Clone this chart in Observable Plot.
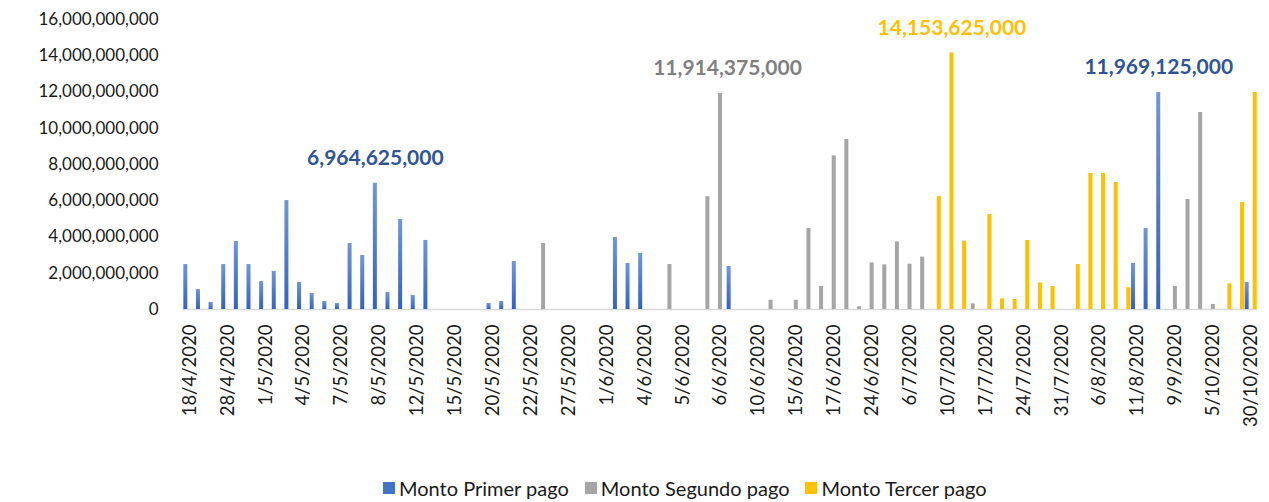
<!DOCTYPE html>
<html>
<head>
<meta charset="utf-8">
<script src="https://cdn.jsdelivr.net/npm/d3@7"></script>
<script src="https://cdn.jsdelivr.net/npm/@observablehq/plot@0.6"></script>
<style>
  html, body { margin: 0; padding: 0; background: #ffffff; }
  #chart { position: relative; width: 1269px; height: 502px; overflow: hidden; font-family: Lato, "Open Sans", sans-serif; }
  #chart svg { display: block; }
  .legend { position: absolute; left: 383px; top: 474px; height: 28px; display: flex; align-items: center; font-size: 20px; color: #1a1a1a; white-space: nowrap; }
  .legend .item { display: flex; align-items: center; margin-right: 16px; }
  .legend .sw { width: 12px; height: 12px; margin-right: 4px; }
</style>
</head>
<body>
<div id="chart"></div>
<script>
// Category tick labels (one label every third category)
const tickLabels = [
  "18/4/2020", "28/4/2020", "1/5/2020", "4/5/2020", "7/5/2020", "8/5/2020",
  "12/5/2020", "15/5/2020", "20/5/2020", "22/5/2020", "27/5/2020", "1/6/2020",
  "4/6/2020", "5/6/2020", "6/6/2020", "10/6/2020", "15/6/2020", "17/6/2020",
  "24/6/2020", "6/7/2020", "10/7/2020", "17/7/2020", "24/7/2020", "31/7/2020",
  "6/8/2020", "11/8/2020", "9/9/2020", "5/10/2020", "30/10/2020"
];

// Series values, in thousands of millions (85 categories each)
const primer = [
  2.48, 1.10, 0.39, 2.48, 3.75, 2.48, 1.54, 2.10, 6.01, 1.49,
  0.88, 0.44, 0.33, 3.64, 2.98, 6.964625, 0.94, 4.97, 0.77, 3.81,
  0, 0, 0, 0, 0.33, 0.44, 2.65, 0, 0, 0,
  0, 0, 0, 0, 3.97, 2.54, 3.09, 0, 0, 0,
  0, 0, 0, 2.37, 0, 0, 0, 0, 0, 0,
  0, 0, 0, 0, 0, 0, 0, 0, 0, 0,
  0, 0, 0, 0, 0, 0, 0, 0, 0, 0,
  0, 0, 0, 0, 0, 2.54, 4.47, 11.969125, 0, 0,
  0, 0, 0, 0, 1.49
];
const segundo = [
  0, 0, 0, 0, 0, 0, 0, 0, 0, 0,
  0, 0, 0, 0, 0, 0, 0, 0, 0, 0,
  0, 0, 0, 0, 0, 0, 0, 0, 3.64, 0,
  0, 0, 0, 0, 0, 0, 0, 0, 2.48, 0,
  0, 6.22, 11.914375, 0, 0, 0, 0.51, 0, 0.51, 4.47,
  1.27, 8.48, 9.38, 0.15, 2.57, 2.46, 3.73, 2.50, 2.89, 0,
  0, 0, 0.31, 0, 0, 0, 0, 0, 0, 0,
  0, 0, 0, 0, 0, 0, 0, 0, 1.27, 6.07,
  10.87, 0.28, 0, 0, 0
];
const tercer = [
  0, 0, 0, 0, 0, 0, 0, 0, 0, 0,
  0, 0, 0, 0, 0, 0, 0, 0, 0, 0,
  0, 0, 0, 0, 0, 0, 0, 0, 0, 0,
  0, 0, 0, 0, 0, 0, 0, 0, 0, 0,
  0, 0, 0, 0, 0, 0, 0, 0, 0, 0,
  0, 0, 0, 0, 0, 0, 0, 0, 0, 6.23,
  14.153625, 3.77, 0, 5.24, 0.59, 0.55, 3.81, 1.47, 1.27, 0,
  2.48, 7.50, 7.50, 7.01, 1.20, 0, 0, 0, 0, 0,
  0, 0, 1.42, 5.90, 11.97
];

const seriesNames = ["Monto Primer pago", "Monto Segundo pago", "Monto Tercer pago"];
const seriesFills = ["url(#blueGrad)", "#A5A5A5", "#FFC000"];
const swatchColors = ["#4472C4", "#A5A5A5", "#FFC000"];
const labelColors = ["#2F5597", "#7F7F7F", "#FFC000"];
// annotated bars: [series index, category index]
const annotated = [[0, 15], [0, 77], [1, 42], [2, 60]];

const seriesValues = [primer, segundo, tercer];
const nCat = primer.length;
const toUnits = v => Math.round(v * 1e9);

// cluster layout: bar width and offset of each series inside its category band
const barWidth = 4;
const seriesOffset = [-4, 0, 4];
const labelShift = [0, 7, 0];

const rowsFor = s => seriesValues[s]
  .map((v, i) => ({ i, s: seriesNames[s], v: toUnits(v) }))
  .filter(d => d.v > 0);

const annFor = s => annotated
  .filter(([k]) => k === s)
  .map(([k, i]) => ({ i, v: toUnits(seriesValues[k][i]) }));

const fmt = d3.format(",");

const width = 1269, marginLeft = 183, marginRight = 12;
const band = (width - marginLeft - marginRight) / nCat;
const inset = (band - barWidth) / 2;

const plot = Plot.plot({
  width,
  height: 474,
  marginLeft,
  marginRight,
  marginTop: 19,
  marginBottom: 165,
  style: { fontFamily: "Lato, 'Open Sans', sans-serif", fontSize: "17px", color: "#1a1a1a", background: "#ffffff" },
  x: { type: "band", domain: d3.range(nCat), padding: 0, label: null },
  y: { domain: [0, 16e9], label: null },
  marks: [
    Plot.axisY({ ticks: d3.range(0, 16e9 + 1, 2e9), tickFormat: fmt, tickSize: 0, tickPadding: 25, fontSize: 17, label: null }),
    Plot.axisX({ anchor: "bottom", tickFormat: i => (i % 3 === 0 ? tickLabels[i / 3] : ""), tickRotate: -90, tickSize: 0, tickPadding: 15, fontSize: 18.5, label: null }),
    Plot.ruleY([0], { stroke: "#D9D9D9", strokeWidth: 1.5 }),
    ...seriesNames.map((name, s) => Plot.barY(rowsFor(s), {
      x: "i", y: "v", fill: seriesFills[s], insetLeft: inset, insetRight: inset, dx: seriesOffset[s]
    })),
    ...seriesNames.map((name, s) => Plot.text(annFor(s), {
      x: "i", y: "v", text: d => fmt(d.v), fill: labelColors[s], dy: -25, dx: seriesOffset[s] + labelShift[s],
      fontWeight: "bold", fontSize: 21
    }))
  ]
});

// gradient used by the first series (Excel-like shading)
const defs = d3.select(plot).insert("defs", ":first-child");
const grad = defs.append("linearGradient").attr("id", "blueGrad").attr("x1", 0).attr("y1", 0).attr("x2", 0).attr("y2", 1);
grad.append("stop").attr("offset", "0%").attr("stop-color", "#7096DA");
grad.append("stop").attr("offset", "100%").attr("stop-color", "#3362C0");

const chart = document.getElementById("chart");
chart.appendChild(plot);

const legend = document.createElement("div");
legend.className = "legend";
seriesNames.forEach((name, s) => {
  const item = document.createElement("div");
  item.className = "item";
  const sw = document.createElement("span");
  sw.className = "sw";
  sw.style.background = swatchColors[s];
  const label = document.createElement("span");
  label.textContent = name;
  item.appendChild(sw);
  item.appendChild(label);
  legend.appendChild(item);
});
chart.appendChild(legend);
</script>
</body>
</html>
